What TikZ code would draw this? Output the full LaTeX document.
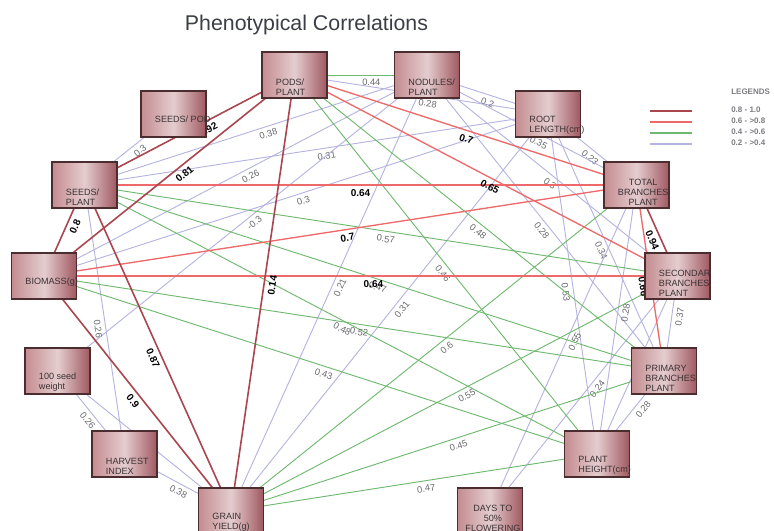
\documentclass[tikz,border=0pt]{standalone}
\usepackage{fontspec}
\setmainfont{Liberation Sans}
\usetikzlibrary{backgrounds}
\definecolor{dkred}{RGB}{170,70,78}
\definecolor{rdline}{RGB}{238,105,105}
\definecolor{gnline}{RGB}{110,185,110}
\definecolor{lvline}{RGB}{180,180,225}
\definecolor{boxl}{RGB}{196,140,144}
\definecolor{boxm}{RGB}{228,205,207}
\definecolor{boxr}{RGB}{160,88,96}
\definecolor{boxedge}{RGB}{75,45,48}
\definecolor{txtgray}{RGB}{60,50,52}
\definecolor{lblgray}{RGB}{105,105,110}
\definecolor{leggray}{RGB}{125,125,130}
\definecolor{titlegray}{RGB}{60,62,70}

\tikzset{
  trait/.style={rectangle, draw=boxedge, line width=0.9pt, left color=boxl, right color=boxr, middle color=boxm,
    minimum width=48.75pt, minimum height=34.5pt, inner sep=0pt},
  traittxt/.style={anchor=south west, xshift=-14.6pt, yshift=1.5pt, align=left, inner sep=0.5pt,
    text=txtgray, font=\fontsize{6.8}{7.5}\selectfont},
  dk/.style={draw=dkred, line width=1.2pt},
  rd/.style={draw=rdline, line width=1pt},
  gn/.style={draw=gnline, line width=0.7pt},
  lv/.style={draw=lvline, line width=0.7pt},
  wl/.style={sloped, below=2.5pt, inner sep=0.5pt, text=lblgray, font=\fontsize{7}{8}\selectfont},
  sl/.style={wl, text=black, font=\bfseries\fontsize{7.5}{8}\selectfont},
  legtxt/.style={anchor=west, inner sep=0pt, text=leggray, font=\bfseries\fontsize{6}{7}\selectfont},
}

\begin{document}
\begin{tikzpicture}[x=0.75pt, y=-0.75pt]
  \useasboundingbox (0,0) rectangle (774,531);

  \node[font=\fontsize{16}{19}\selectfont, text=titlegray, anchor=base] (title) at (306.5,30.5) {Phenotypical Correlations};

  % traits
  \node[trait, label={[traittxt]below:{PODS/\\PLANT}}] (pods) at (294.5,75) {};
  \node[trait, label={[traittxt]below:{NODULES/\\PLANT}}] (nod) at (427,75) {};
  \node[trait, label={[traittxt, yshift=9pt]below:{SEEDS/ POD}}] (spod) at (173.5,114) {};
  \node[trait, label={[traittxt]below:{ROOT\\LENGTH(cm)}}] (root) at (548,114) {};
  \node[trait, label={[traittxt]below:{SEEDS/\\PLANT}}] (splant) at (84.5,185) {};
  \node[trait, label={[traittxt, align=center]below:{TOTAL\\BRANCHES\\PLANT}}] (tot) at (636.5,185) {};
  \node[trait, label={[traittxt, yshift=8pt]below:{BIOMASS(g)}}] (bio) at (44,276) {};
  \node[trait, label={[traittxt]below:{SECONDAR\\BRANCHES\\PLANT}}] (sec) at (677.5,276) {};
  \node[trait, label={[traittxt]below:{100 seed\\weight}}] (hsw) at (57.5,371) {};
  \node[trait, label={[traittxt]below:{PRIMARY\\BRANCHES\\PLANT}}] (pri) at (664,371) {};
  \node[trait, label={[traittxt]below:{HARVEST\\INDEX}}] (hi) at (124.5,454) {};
  \node[trait, label={[traittxt]below:{PLANT\\HEIGHT(cm)}}] (ph) at (597,454) {};
  \node[trait, label={[traittxt]below:{GRAIN\\YIELD(g)}}] (gy) at (231,511) {};
  \node[trait, label={[traittxt, align=center, xshift=-4.5pt]below:{DAYS TO\\50\%\\FLOWERING}}] (df) at (490,511) {};

  \begin{scope}[on background layer]
    % 0.2 - >0.4
    \draw[lv] (splant.center) -- node[wl,pos=.57]{0.3} (spod.center);
    \draw[lv] (splant.center) -- node[wl,pos=.53]{0.38} (nod.center);
    \draw[lv] (splant.center) -- node[wl,pos=.52]{0.31} (root.center);
    \draw[lv] (bio.center) -- node[wl,pos=.53]{0.26} (nod.center);
    \draw[lv] (bio.center) -- node[wl,pos=.51]{0.3} (root.center);
    \draw[lv] (hsw.center) -- node[wl,pos=.52]{-0.3} (nod.center);
    \draw[lv] (gy.center) -- node[wl,pos=.52]{0.21} (nod.center);
    \draw[lv] (gy.center) -- node[wl,pos=.52]{0.31} (root.center);
    \draw[lv] (pods.center) -- node[wl,pos=.53]{0.28} (root.center);
    \draw[lv] (nod.center) -- node[wl,pos=.52]{0.2} (root.center);
    \draw[lv] (root.center) -- node[wl,pos=.53]{0.23} (tot.center);
    \draw[lv] (nod.center) -- node[wl,pos=.55]{0.35} (tot.center);
    \draw[lv] (hsw.center) -- node[wl,pos=.54]{0.26} (hi.center);
    \draw[lv] (hi.center) -- node[wl,pos=.54]{0.38} (gy.center);
    \draw[lv] (splant.center) -- node[wl,pos=.53]{0.26} (hi.center);
    \draw[lv] (hsw.center) -- (gy.center);
    \draw[lv] (nod.center) -- node[wl,pos=.51]{0.3} (sec.center);
    \draw[lv] (nod.center) -- node[wl,pos=.51]{0.28} (pri.center);
    \draw[lv] (root.center) -- node[wl,pos=.52]{0.34} (pri.center);
    \draw[lv] (root.center) -- node[wl,pos=.52]{0.53} (ph.center);
    \draw[lv] (tot.center) -- node[wl,pos=.47]{0.28} (ph.center);
    \draw[lv] (sec.center) -- node[wl,pos=.42]{0.37} (pri.center);
    \draw[lv] (tot.center) -- node[wl,pos=.47]{0.55} (df.center);
    \draw[lv] (sec.center) -- node[wl,pos=.46]{0.24} (df.center);
    \draw[lv] (ph.center) -- node[wl,pos=.6]{0.28} (pri.center);
    \draw[lv] (sec.center) -- (ph.center);
    % 0.4 - >0.6
    \draw[gn] (pods.center) -- node[wl,pos=.58]{0.44} (nod.center);
    \draw[gn] (pods.center) -- node[wl,pos=.51]{0.48} (pri.center);
    \draw[gn] (pods.center) -- node[wl,pos=.51]{0.46} (ph.center);
    \draw[gn] (splant.center) -- node[wl,pos=.51]{0.57} (sec.center);
    \draw[gn] (splant.center) -- node[wl,pos=.51]{0.47} (pri.center);
    \draw[gn] (splant.center) -- node[wl,pos=.51]{0.48} (ph.center);
    \draw[gn] (bio.center) -- node[wl,pos=.51]{0.52} (pri.center);
    \draw[gn] (bio.center) -- node[wl,pos=.51]{0.43} (ph.center);
    \draw[gn] (gy.center) -- node[wl,pos=.52]{0.6} (tot.center);
    \draw[gn] (gy.center) -- node[wl,pos=.52]{0.55} (sec.center);
    \draw[gn] (gy.center) -- node[wl,pos=.52]{0.45} (pri.center);
    \draw[gn] (gy.center) -- node[wl,pos=.53]{0.47} (ph.center);
    % 0.6 - >0.8
    \draw[rd] (splant.center) -- node[sl,pos=.5]{0.64} (tot.center);
    \draw[rd] (bio.center) -- node[sl,pos=.52]{0.64} (sec.center);
    \draw[rd] (bio.center) -- node[sl,pos=.51]{0.7} (tot.center);
    \draw[rd] (pods.center) -- node[sl,pos=.51]{0.7} (tot.center);
    \draw[rd] (pods.center) -- node[sl,pos=.52]{0.65} (sec.center);
    \draw[rd] (tot.center) -- node[sl,pos=.54]{0.66} (pri.center);
    % 0.8 - 1.0
    \draw[dk] (splant.center) -- node[sl,pos=.57]{0.92} (pods.center);
    \draw[dk] (bio.center) -- node[sl,pos=.54]{0.81} (pods.center);
    \draw[dk] (pods.center) -- node[sl,pos=.48]{0.14} (gy.center);
    \draw[dk] (splant.center) -- node[sl,pos=.42]{0.8} (bio.center);
    \draw[dk] (splant.center) -- node[sl,pos=.52]{0.87} (gy.center);
    \draw[dk] (bio.center) -- node[sl,pos=.51]{0.9} (gy.center);
    \draw[dk] (tot.center) -- node[sl,pos=.57]{0.94} (sec.center);
  \end{scope}

  % legend
  \node[legtxt] (legtitle) at (731,92) {LEGENDS};
  \foreach \col/\rng [count=\i] in {dkred/0.8 - 1.0, rdline/0.6 - >0.8, gnline/0.4 - >0.6, lvline/0.2 - >0.4}{
    \draw[draw=\col, line width=1pt] (650,100+11*\i) -- (692,100+11*\i);
    \node[legtxt] (leg\i) at (731,99+11*\i) {\rng};
  }
\end{tikzpicture}
\end{document}
